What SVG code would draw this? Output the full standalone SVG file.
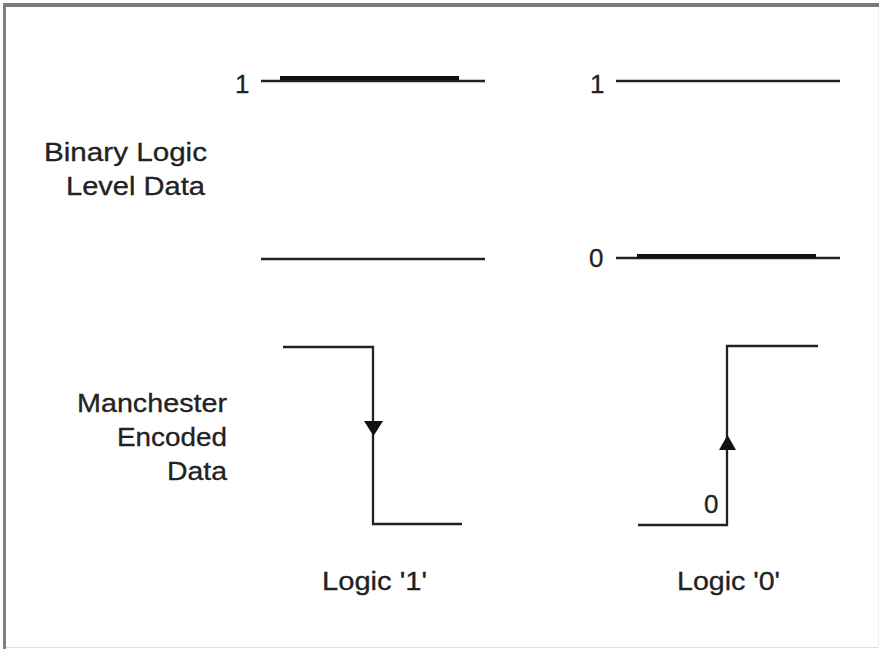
<svg xmlns="http://www.w3.org/2000/svg" width="879" height="649" viewBox="0 0 879 649">
<style>
.t{font-family:"Liberation Sans",Arial,sans-serif;font-size:26px;fill:#222;stroke:#222;stroke-width:0.3}
.w{fill:none;stroke:#222;stroke-width:2.3}
.b{fill:none;stroke:#111;stroke-width:4}
.ah{fill:#111}
</style>
<rect x="0" y="0" width="879" height="649" fill="#fff"/>
<g id="frame">
<rect x="3" y="3" width="876" height="4" fill="#7a7a7a"/>
<rect x="3" y="3" width="3" height="646" fill="#808080"/>
<line x1="6" y1="647.5" x2="879" y2="647.5" stroke="#ddd" stroke-width="1"/>
<line x1="878.5" y1="7" x2="878.5" y2="649" stroke="#eee" stroke-width="1"/>
</g>
<g id="labels">
<text class="t" x="207" y="161" text-anchor="end" textLength="163" lengthAdjust="spacingAndGlyphs">Binary Logic</text>
<text class="t" x="205" y="195" text-anchor="end" textLength="139" lengthAdjust="spacingAndGlyphs">Level Data</text>
<text class="t" x="227" y="412" text-anchor="end" textLength="150" lengthAdjust="spacingAndGlyphs">Manchester</text>
<text class="t" x="227" y="446" text-anchor="end" textLength="110" lengthAdjust="spacingAndGlyphs">Encoded</text>
<text class="t" x="227" y="480" text-anchor="end" textLength="60" lengthAdjust="spacingAndGlyphs">Data</text>
<text class="t" x="322" y="590" textLength="105" lengthAdjust="spacingAndGlyphs">Logic '1'</text>
<text class="t" x="677" y="590" textLength="103" lengthAdjust="spacingAndGlyphs">Logic '0'</text>
<text class="t" x="235" y="93">1</text>
<text class="t" x="590" y="93">1</text>
<text class="t" x="589" y="267">0</text>
<text class="t" x="704" y="513">0</text>
</g>
<g id="connectors">
<line class="w" x1="261" y1="81" x2="485" y2="81"/>
<line class="b" x1="280" y1="78" x2="459" y2="78"/>
<line class="w" x1="261" y1="259" x2="485" y2="259"/>
<line class="w" x1="616" y1="81" x2="840" y2="81"/>
<line class="w" x1="616" y1="258" x2="840" y2="258"/>
<line class="b" x1="637" y1="256" x2="816" y2="256"/>
<polyline class="w" points="283,347 373,347 373,524 462,524"/>
<polygon class="ah" points="364,421 383,421 373.5,436"/>
<polyline class="w" points="638,525 727,525 727,346 818,346"/>
<polygon class="ah" points="727.5,435 719,450 736,450"/>
</g>
</svg>
